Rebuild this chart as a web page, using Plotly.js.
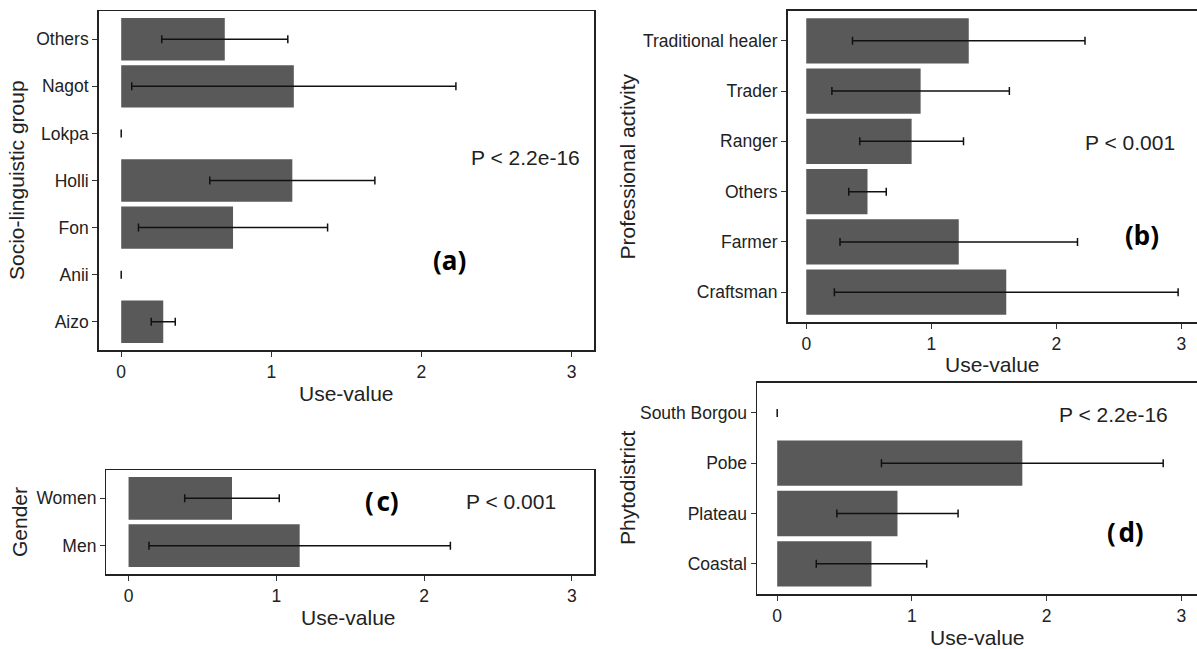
<!DOCTYPE html>
<html>
<head>
<meta charset="utf-8">
<script src="https://cdn.plot.ly/plotly-3.0.1.min.js"></script>
<style>html,body{margin:0;padding:0;background:#fff;}#chart{width:1197px;height:649px;}</style>
</head>
<body>
<div id="chart"></div>
<script>
// ---- Data (bottom-to-top category order) ----
var groupCats = ["Aizo", "Anii", "Fon", "Holli", "Lokpa", "Nagot", "Others"];
var groupMean = [0.28, 0, 0.745, 1.14, 0, 1.15, 0.69];
var groupSd   = [0.08, 0, 0.63, 0.55, 0, 1.08, 0.42];

var profCats = ["Craftsman", "Farmer", "Others", "Ranger", "Trader", "Traditional healer"];
var profMean = [1.60, 1.22, 0.49, 0.843, 0.915, 1.30];
var profSd   = [1.375, 0.95, 0.15, 0.415, 0.71, 0.93];

var genderCats = ["Men", "Women"];
var genderMean = [1.158, 0.70];
var genderSd   = [1.02, 0.32];

var phytoCats = ["Coastal", "Plateau", "Pobe", "South Borgou"];
var phytoMean = [0.70, 0.893, 1.82, 0];
var phytoSd   = [0.41, 0.45, 1.046, 0];

var xTickVals = [0, 1, 2, 3];
var xTickText = ["0", "1", "2", "3"];

// ---- helpers ----
var W = 1197, H = 649;
function px(x){ return x / W; }
function py(y){ return 1 - y / H; }

var FONT = "Liberation Sans, Arial, sans-serif";
var BAR = "#595959";

function barTrace(cats, mean, sd, xa, ya){
  return {
    type: "bar", orientation: "h",
    y: cats, x: mean,
    xaxis: xa, yaxis: ya,
    width: 0.9,
    marker: {color: BAR, line: {width: 0}},
    error_x: {type: "data", array: sd, visible: true, color: "#111", thickness: 1.5, width: 4},
    hoverinfo: "none", showlegend: false
  };
}

var data = [
  barTrace(groupCats, groupMean, groupSd, "x", "y"),
  barTrace(profCats, profMean, profSd, "x2", "y2"),
  barTrace(genderCats, genderMean, genderSd, "x3", "y3"),
  barTrace(phytoCats, phytoMean, phytoSd, "x4", "y4")
];

function xAxis(domain, range, anchor){
  return {
    domain: domain, range: range, anchor: anchor,
    tickvals: xTickVals, ticktext: xTickText,
    ticks: "outside", ticklen: 5, tickwidth: 1.1, tickcolor: "#333",
    showline: true, linecolor: "#222", linewidth: 1.5, mirror: true,
    showgrid: false, zeroline: false,
    tickfont: {family: FONT, size: 17.5, color: "#222"},
    fixedrange: true
  };
}
function yAxis(domain, cats, anchor, mirror){
  return {
    domain: domain, anchor: anchor,
    type: "category", categoryorder: "array", categoryarray: cats,
    range: [-0.6, cats.length - 0.4],
    ticks: "outside", ticklen: 5, tickwidth: 1.1, tickcolor: "#333",
    showline: true, linecolor: "#222", linewidth: 1.5, mirror: mirror,
    showgrid: false, zeroline: false,
    tickfont: {family: FONT, size: 17.5, color: "#222"},
    fixedrange: true
  };
}

function txt(x, y, s, size, bold, angle){
  return {
    xref: "paper", yref: "paper", x: px(x), y: py(y),
    xanchor: "center", yanchor: "middle", showarrow: false,
    text: bold ? "<b>" + s + "</b>" : s,
    textangle: angle || 0,
    font: {family: bold ? "Noto Sans, Liberation Sans, sans-serif" : FONT, size: size, color: bold ? "#000" : "#222"}
  };
}

var layout = {
  width: W, height: H,
  margin: {l: 0, r: 0, t: 0, b: 0},
  paper_bgcolor: "#fff", plot_bgcolor: "#fff",
  showlegend: false,
  bargap: 0.1,
  xaxis:  xAxis([px(98.7), px(594)], [-0.15, 3.15], "y"),
  yaxis:  yAxis([py(350), py(11)], groupCats, "x", true),
  xaxis2: xAxis([px(787.5), 1], [-0.15, 3.126], "y2"),
  yaxis2: yAxis([py(322.3), py(10.7)], profCats, "x2", false),
  xaxis3: xAxis([px(106.4), px(594)], [-0.15, 3.15], "y3"),
  yaxis3: yAxis([py(574), py(470)], genderCats, "x3", true),
  xaxis4: xAxis([px(757), 1], [-0.15, 3.117], "y4"),
  yaxis4: yAxis([py(594), py(382.7)], phytoCats, "x4", false),
  annotations: [
    // axis titles
    txt(346, 393, "Use-value", 21),
    txt(17, 180, "Socio-linguistic group", 21, false, -90),
    txt(992, 364, "Use-value", 21),
    txt(627, 166.5, "Professional activity", 21, false, -90),
    txt(348, 617, "Use-value", 21),
    txt(19, 522, "Gender", 21, false, -90),
    txt(977, 637, "Use-value", 21),
    txt(627, 488, "Phytodistrict", 21, false, -90),
    // statistics & panel letters
    txt(525.5, 158, "P &lt; 2.2e-16", 21),
    txt(449, 260, "(a)", 26, true),
    txt(1130, 143, "P &lt; 0.001", 21),
    txt(1142, 235, "(b)", 26, true),
    txt(511, 501, "P &lt; 0.001", 21),
    txt(381.6, 501, "(\u200Ac)", 26, true),
    txt(1113.6, 415, "P &lt; 2.2e-16", 21),
    txt(1125.5, 532, "(\u200Ad)", 26, true)
  ]
};

Plotly.newPlot("chart", data, layout, {staticPlot: true, displayModeBar: false});
</script>
</body>
</html>
